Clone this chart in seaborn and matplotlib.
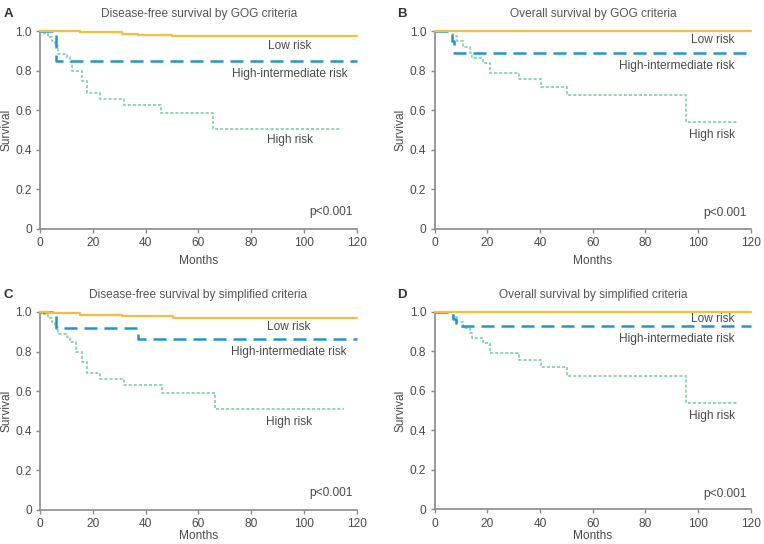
import matplotlib
matplotlib.use("Agg")
import matplotlib.pyplot as plt
import seaborn as sns
import pandas as pd

sns.set_theme(style="ticks")
plt.rcParams['font.family'] = ['Liberation Sans', 'DejaVu Sans']

# ---------------- data ----------------
panel_letters = ["A", "B", "C", "D"]
panel_titles = ["Disease-free survival by GOG criteria",
                "Overall survival by GOG criteria",
                "Disease-free survival by simplified criteria",
                "Overall survival by simplified criteria"]
group_names = ["Low risk", "High-intermediate risk", "High risk"]
x_ticks = [0, 20, 40, 60, 80, 100, 120]
y_ticks = [0, 0.2, 0.4, 0.6, 0.8, 1.0]
y_tick_labels = ["0", "0.2", "0.4", "0.6", "0.8", "1.0"]
p_text = "p<0.001"

# Panel A
A_low_t = [0, 15, 31, 37, 50, 120]
A_low_s = [1.0, 0.993, 0.987, 0.981, 0.973, 0.973]
A_hi_t = [0, 6, 120]
A_hi_s = [1.0, 0.847, 0.847]
A_high_t = [0, 1, 3, 4.5, 5.7, 6.9, 10.1, 11.4, 12, 15.8, 17.9, 22.8, 31.8, 45.7, 65.7, 113.7]
A_high_s = [1.0, 0.99, 0.97, 0.95, 0.925, 0.885, 0.87, 0.845, 0.80, 0.745, 0.685, 0.658, 0.626, 0.583, 0.503, 0.503]

# Panel B
B_low_t = [0, 120]
B_low_s = [1.0, 1.0]
B_hi_t = [0, 6.5, 7.5, 120]
B_hi_s = [1.0, 0.95, 0.89, 0.89]
B_high_t = [0, 7, 8.5, 10.9, 13.5, 14.1, 18.5, 21, 32, 40.3, 50.4, 95.3, 114.9]
B_high_s = [1.0, 0.975, 0.95, 0.92, 0.89, 0.865, 0.84, 0.79, 0.755, 0.717, 0.675, 0.54, 0.54]

# Panel C
C_low_t = [0, 3, 15, 31, 50.5, 120]
C_low_s = [1.0, 0.995, 0.985, 0.978, 0.968, 0.968]
C_hi_t = [0, 6, 37, 120]
C_hi_s = [1.0, 0.921, 0.862, 0.862]
C_high_t = [0, 1, 3, 4.5, 5.7, 6.9, 10.1, 11.4, 13.5, 15.8, 17.9, 22.8, 31.8, 46.1, 66.3, 115]
C_high_s = [1.0, 0.99, 0.97, 0.95, 0.925, 0.89, 0.875, 0.85, 0.80, 0.745, 0.69, 0.663, 0.63, 0.589, 0.508, 0.508]

# Panel D
D_low_t = [0, 120]
D_low_s = [1.0, 1.0]
D_hi_t = [0, 7, 8, 120]
D_hi_s = [1.0, 0.965, 0.927, 0.927]
D_high_t = [0, 7, 8.5, 10.9, 13.5, 14.1, 18.5, 21, 32, 40.3, 50.4, 95.3, 114.9]
D_high_s = [1.0, 0.975, 0.95, 0.92, 0.89, 0.865, 0.84, 0.792, 0.757, 0.718, 0.675, 0.536, 0.536]

panel_data = {
    "A": [(A_low_t, A_low_s), (A_hi_t, A_hi_s), (A_high_t, A_high_s)],
    "B": [(B_low_t, B_low_s), (B_hi_t, B_hi_s), (B_high_t, B_high_s)],
    "C": [(C_low_t, C_low_s), (C_hi_t, C_hi_s), (C_high_t, C_high_s)],
    "D": [(D_low_t, D_low_s), (D_hi_t, D_hi_s), (D_high_t, D_high_s)],
}

# ---------------- styling ----------------
colors = ["#F6BE3F", "#1F95D3", "#82D5A9"]
styles = ["-", (0, (5.2, 2.8)), (0, (1.7, 1.1))]
widths = [1.6, 1.8, 1.3]

W, H = 764, 544
def box(left, right, top, bottom):
    return [left / W, 1 - bottom / H, (right - left) / W, (bottom - top) / H]

axes_pos = {
    "A": box(40, 356.7, 31, 228.7),
    "B": box(434.7, 750.7, 31, 228.7),
    "C": box(40, 356.7, 312, 509.7),
    "D": box(434.7, 750.7, 311.7, 509.3),
}
title_pos = {"A": (199, 14), "B": (593, 14), "C": (198, 295), "D": (593, 295)}
letter_pos = {"A": (4, 14), "B": (397, 14), "C": (3, 295), "D": (397, 295)}
xlabel_y = {"A": -0.163, "B": -0.163, "C": -0.133, "D": -0.133}

# label placements: (x_month, y, ha)
label_place = {
    "A": [(94.6, 0.924, "center"), (94.6, 0.783, "center"), (94.6, 0.45, "center")],
    "B": [(114, 0.953, "right"), (114, 0.823, "right"), (114, 0.473, "right")],
    "C": [(94.3, 0.924, "center"), (94.3, 0.80, "center"), (94.3, 0.446, "center")],
    "D": [(114, 0.961, "right"), (114, 0.864, "right"), (114, 0.473, "right")],
}
p_place = {"A": (118.4, 0.086), "B": (118.5, 0.078), "C": (118.4, 0.086), "D": (118.5, 0.078)}

spine_col = "#8a8a8a"
text_col = "#4a4a4a"
fs = 8.6

fig = plt.figure(figsize=(W / 100, H / 100), dpi=100)

for key, title in zip(panel_letters, panel_titles):
    ax = fig.add_axes(axes_pos[key])
    frames = []
    for (t, s), name in zip(panel_data[key], group_names):
        frames.append(pd.DataFrame({"Months": t, "Survival": s, "Group": name}))
    df = pd.concat(frames, ignore_index=True)
    for i, name in enumerate(group_names):
        sub = df[df["Group"] == name]
        sns.lineplot(data=sub, x="Months", y="Survival", ax=ax, color=colors[i],
                     linestyle=styles[i], linewidth=widths[i], drawstyle="steps-post",
                     estimator=None, sort=False, clip_on=False, zorder=3 - i * 0.1)
    ax.set_xlim(0, 120)
    ax.set_ylim(0, 1.0)
    ax.set_xticks(x_ticks)
    ax.set_yticks(y_ticks)
    ax.set_yticklabels(y_tick_labels)
    sns.despine(ax=ax)
    for sp in ["left", "bottom"]:
        ax.spines[sp].set_color(spine_col)
        ax.spines[sp].set_linewidth(1.2)
    ax.tick_params(axis="both", colors=spine_col, labelcolor=text_col, labelsize=fs,
                   length=3, width=1.0, pad=3)
    ax.set_xlabel("Months", fontsize=fs, color=text_col)
    ax.set_ylabel("Survival", fontsize=fs, color=text_col)
    ax.xaxis.set_label_coords(0.5, xlabel_y[key])
    ax.xaxis.label.set_va("center")
    ax.yaxis.set_label_coords(-0.107, 0.5)
    ax.yaxis.label.set_va("center")
    for (lx, ly, ha), name in zip(label_place[key], group_names):
        ax.text(lx, ly, name, ha=ha, va="center", fontsize=fs, color=text_col)
    px, py = p_place[key]
    ax.text(px, py, p_text, ha="right", va="center", fontsize=fs, color=text_col)
    tx, ty = title_pos[key]
    fig.text(tx / W, 1 - ty / H, title, ha="center", va="center", fontsize=fs, color="#555555")
    lx, ly = letter_pos[key]
    fig.text(lx / W, 1 - ly / H, key, ha="left", va="center", fontsize=9.5,
             fontweight="bold", color="#333333")

fig.savefig("out.png", dpi=100)
